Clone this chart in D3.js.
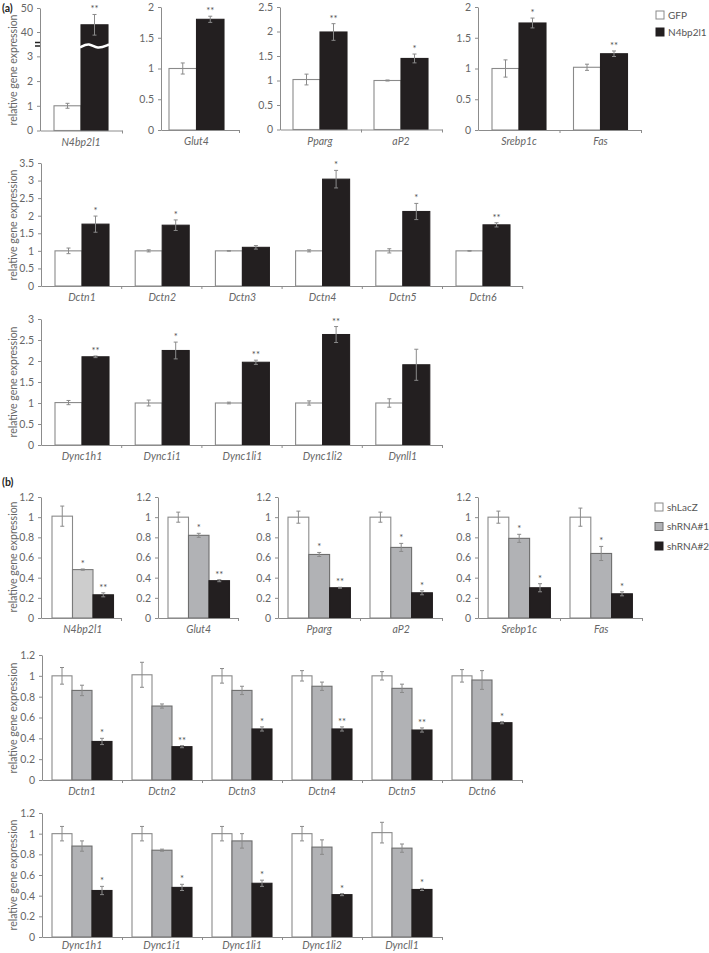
<!DOCTYPE html>
<html>
<head>
<meta charset="utf-8">
<script src="https://cdn.jsdelivr.net/npm/d3@7"></script>
<style>
  body { margin: 0; background: #fff; }
  text { font-family: Lato, "Open Sans", sans-serif; }
</style>
</head>
<body>
<svg id="fig" width="709" height="953"></svg>
<script>
// ---------- panel (a): GFP vs N4bp2l1 ----------
const aGenes1 = ["N4bp2l1", "Glut4", "Pparg", "aP2", "Srebp1c", "Fas"];
const aGfp1 = [1.0, 1.0, 1.02, 1.0, 1.0, 1.02];
const aGfpErr1 = [0.1, 0.09, 0.11, 0.01, 0.14, 0.05];
const aN4bp1 = [43, 1.8, 1.99, 1.45, 1.74, 1.24];
const aN4bpErr1 = [4.3, 0.05, 0.17, 0.09, 0.08, 0.045];
const aStars1 = ["**", "**", "**", "*", "*", "**"];

const aGenes2 = ["Dctn1", "Dctn2", "Dctn3", "Dctn4", "Dctn5", "Dctn6"];
const aGfp2 = [1.0, 1.0, 1.0, 1.0, 1.0, 1.0];
const aGfpErr2 = [0.08, 0.03, 0.01, 0.03, 0.06, 0.01];
const aN4bp2 = [1.76, 1.73, 1.1, 3.04, 2.12, 1.74];
const aN4bpErr2 = [0.23, 0.15, 0.05, 0.25, 0.23, 0.06];
const aStars2 = ["*", "*", "", "*", "*", "**"];

const aGenes3 = ["Dync1h1", "Dync1i1", "Dync1li1", "Dync1li2", "Dynll1"];
const aGfp3 = [1.01, 1.0, 1.0, 1.0, 1.0];
const aGfpErr3 = [0.05, 0.07, 0.02, 0.05, 0.1];
const aN4bp3 = [2.1, 2.25, 1.97, 2.63, 1.91];
const aN4bpErr3 = [0.02, 0.2, 0.05, 0.19, 0.37];
const aStars3 = ["**", "*", "**", "**", ""];

const aLegend = ["GFP", "N4bp2l1"];

// ---------- panel (b): shLacZ / shRNA#1 / shRNA#2 ----------
const bGenes1 = ["N4bp2l1", "Glut4", "Pparg", "aP2", "Srebp1c", "Fas"];
const bLacZ1 = [1.01, 1.0, 1.0, 1.0, 1.0, 1.0];
const bLacZErr1 = [0.1, 0.05, 0.06, 0.05, 0.06, 0.09];
const bSh1_1 = [0.48, 0.82, 0.63, 0.7, 0.79, 0.64];
const bSh1Err1 = [0.006, 0.02, 0.02, 0.04, 0.04, 0.07];
const bSh2_1 = [0.23, 0.37, 0.3, 0.25, 0.3, 0.24];
const bSh2Err1 = [0.02, 0.01, 0.005, 0.02, 0.04, 0.02];
const bStarsSh1_1 = ["*", "*", "*", "*", "*", "*"];
const bStarsSh2_1 = ["**", "**", "**", "*", "*", "*"];

const bGenes2 = ["Dctn1", "Dctn2", "Dctn3", "Dctn4", "Dctn5", "Dctn6"];
const bLacZ2 = [1.0, 1.01, 1.0, 1.0, 1.0, 1.0];
const bLacZErr2 = [0.08, 0.12, 0.07, 0.05, 0.04, 0.06];
const bSh1_2 = [0.86, 0.71, 0.86, 0.9, 0.88, 0.96];
const bSh1Err2 = [0.05, 0.02, 0.04, 0.04, 0.04, 0.09];
const bSh2_2 = [0.37, 0.32, 0.49, 0.49, 0.48, 0.55];
const bSh2Err2 = [0.03, 0.01, 0.02, 0.02, 0.02, 0.01];
const bStarsSh2_2 = ["*", "**", "*", "**", "**", "*"];

const bGenes3 = ["Dync1h1", "Dync1i1", "Dync1li1", "Dync1li2", "Dyncll1"];
const bLacZ3 = [1.0, 1.0, 1.0, 1.0, 1.01];
const bLacZErr3 = [0.07, 0.07, 0.07, 0.07, 0.1];
const bSh1_3 = [0.88, 0.84, 0.93, 0.87, 0.86];
const bSh1Err3 = [0.05, 0.01, 0.07, 0.07, 0.04];
const bSh2_3 = [0.45, 0.48, 0.52, 0.41, 0.46];
const bSh2Err3 = [0.04, 0.03, 0.03, 0.01, 0.01];
const bStarsSh2_3 = ["*", "*", "*", "*", "*"];

const bLegend = ["shLacZ", "shRNA#1", "shRNA#2"];

const ticks2 = [0, 0.5, 1, 1.5, 2];
const ticks25 = [0, 0.5, 1, 1.5, 2, 2.5];
const ticks35 = [0, 0.5, 1, 1.5, 2, 2.5, 3, 3.5];
const ticks3 = [0, 0.5, 1, 1.5, 2, 2.5, 3];
const ticks12 = [0, 0.2, 0.4, 0.6, 0.8, 1, 1.2];
const ticksBroken = [0, 1, 2, 3, 40, 50];

// ---------- styles ----------
const AXIS = "#8c8c8c", TXT = "#666", STAR = "#555";
const styWhite = { fill: "#fff", stroke: "#8a8a8a" };
const styBlack = { fill: "#231f20", stroke: "#231f20" };
const styGrey = { fill: "#b1b2b5", stroke: "#6e6e6e" };
const styGreyLight = { fill: "#cdcdcd", stroke: "#7a7a7a" };
const none = g => g.map(() => "");

const svg = d3.select("#fig");

function drawSub(s) {
  const g = svg.append("g");
  const y = s.y;
  const n = s.genes.length;
  const x = d3.scaleBand().domain(s.genes).range([s.axisX, s.axisX + n * s.catW]);

  s.series.forEach((ser, j) => {
    const bx = d => x(d) + s.pad + j * s.barW;
    g.selectAll(null).data(s.genes).join("rect")
      .attr("x", bx)
      .attr("y", (d, i) => y(ser.vals[i]))
      .attr("width", s.barW)
      .attr("height", (d, i) => y(0) - y(ser.vals[i]))
      .attr("fill", ser.sty.fill)
      .attr("stroke", ser.sty.stroke)
      .attr("stroke-width", 1.1);
  });

  // break mark on the tall bar
  if (s.broken) {
    const yb = y(3.5) + 1.5;
    const x0 = x(s.genes[0]) + s.pad + s.barW, x1 = x0 + s.barW;
    const w = x1 - x0;
    g.append("path")
      .attr("d", d3.line().curve(d3.curveBasis)([
        [x0 - 1, yb + 2], [x0 + w * 0.3, yb - 3], [x0 + w * 0.6, yb + 4], [x1 + 1, yb - 1]]))
      .attr("fill", "none").attr("stroke", "#fff").attr("stroke-width", 2.5);
    [yb - 3, yb + 0.5].forEach(v => g.append("line")
      .attr("x1", s.axisX - 5).attr("x2", s.axisX + 1)
      .attr("y1", v).attr("y2", v)
      .attr("stroke", "#222").attr("stroke-width", 1.5));
  }

  s.series.forEach((ser, j) => {
    const cx = d => x(d) + s.pad + j * s.barW + s.barW / 2;
    const eb = g.selectAll(null).data(s.genes).join("g");
    eb.append("line")
      .attr("x1", cx).attr("x2", cx)
      .attr("y1", (d, i) => y(ser.vals[i] - ser.errs[i]))
      .attr("y2", (d, i) => y(ser.vals[i] + ser.errs[i]))
      .attr("stroke", "#8a8a8a").attr("stroke-width", 1);
    [-1, 1].forEach(sg => eb.append("line")
      .attr("x1", d => cx(d) - 2).attr("x2", d => cx(d) + 2)
      .attr("y1", (d, i) => y(ser.vals[i] + sg * ser.errs[i]))
      .attr("y2", (d, i) => y(ser.vals[i] + sg * ser.errs[i]))
      .attr("stroke", "#8a8a8a").attr("stroke-width", 1));
    g.selectAll(null).data(s.genes).join("text")
      .attr("x", cx)
      .attr("y", (d, i) => y(ser.vals[i] + ser.errs[i]) - 2)
      .attr("text-anchor", "middle")
      .attr("font-size", 9.5)
      .attr("fill", STAR)
      .text((d, i) => ser.stars[i]);
  });

  // y axis
  const ya = g.append("g")
    .attr("transform", `translate(${s.axisX},0)`)
    .call(d3.axisLeft(y).tickValues(s.ticks).tickSize(3).tickSizeOuter(0)
      .tickPadding(4).tickFormat(d3.format("")));
  // x axis with ticks at category borders
  const xb = d3.scaleLinear().domain([0, n]).range([s.axisX, s.axisX + n * s.catW]);
  const xa = g.append("g")
    .attr("transform", `translate(0,${y(0)})`)
    .call(d3.axisBottom(xb).tickValues(d3.range(1, n + 1)).tickSize(3)
      .tickSizeOuter(0).tickFormat(""));
  [ya, xa].forEach(a => {
    a.attr("font-family", null).attr("font-size", 10.5);
    a.selectAll("path, line").attr("stroke", AXIS);
    a.selectAll("text").attr("fill", TXT);
  });

  // category names
  const k = s.series.length;
  g.selectAll(null).data(s.genes).join("text")
    .attr("x", d => x(d) + s.pad + k * s.barW / 2)
    .attr("y", y(0) + (s.labelDy || 15))
    .attr("text-anchor", "middle")
    .attr("font-style", "italic")
    .attr("font-size", 10.5)
    .attr("fill", TXT)
    .text(d => d);
}

function yTitle(cy) {
  svg.append("text")
    .attr("transform", `translate(13,${cy}) rotate(-90)`)
    .attr("text-anchor", "middle")
    .attr("dy", "0.35em")
    .attr("font-size", 10.5)
    .attr("fill", TXT)
    .text("relative gene expression");
}

function legend(x0, y0, gap, names, stys) {
  names.forEach((nm, i) => {
    svg.append("rect").attr("x", x0).attr("y", y0 + i * gap - 4)
      .attr("width", 8).attr("height", 8)
      .attr("fill", stys[i].fill).attr("stroke", stys[i].stroke).attr("stroke-width", 1);
    svg.append("text").attr("x", x0 + 12).attr("y", y0 + i * gap)
      .attr("dy", "0.35em").attr("font-size", 10).attr("fill", "#555").text(nm);
  });
}

function panelLabel(txt, yy) {
  svg.append("text").attr("x", 2).attr("y", yy)
    .attr("font-size", 10.5).attr("font-weight", "bold").attr("fill", "#222").text(txt);
}

// ---------- panel (a) ----------
panelLabel("(a)", 12);
const aSty = [styWhite, styBlack];
const aRow1 = (a, b) => [
  { vals: aGfp1.slice(a, b), errs: aGfpErr1.slice(a, b), stars: none(aGfp1.slice(a, b)), sty: styWhite },
  { vals: aN4bp1.slice(a, b), errs: aN4bpErr1.slice(a, b), stars: aStars1.slice(a, b), sty: styBlack }];

drawSub({ genes: aGenes1.slice(0, 1), series: aRow1(0, 1), broken: true,
  y: d3.scaleLinear().domain([0, 3.5, 37, 50]).range([130.5, 44, 39.2, 8]),
  ticks: ticksBroken, axisX: 40, catW: 82, pad: 14, barW: 27 });
drawSub({ genes: aGenes1.slice(1, 2), series: aRow1(1, 2),
  y: d3.scaleLinear().domain([0, 2]).range([130, 7]),
  ticks: ticks2, axisX: 161, catW: 78, pad: 8, barW: 27.5 });
drawSub({ genes: aGenes1.slice(2, 4), series: aRow1(2, 4),
  y: d3.scaleLinear().domain([0, 2.5]).range([129.5, 7]),
  ticks: ticks25, axisX: 280, catW: 81, pad: 13, barW: 27 });
drawSub({ genes: aGenes1.slice(4, 6), series: aRow1(4, 6),
  y: d3.scaleLinear().domain([0, 2]).range([130, 7]),
  ticks: ticks2, axisX: 478, catW: 81.5, pad: 14, barW: 27 });
yTitle(70);
legend(656, 15, 17, aLegend, aSty);

drawSub({ genes: aGenes2, series: [
    { vals: aGfp2, errs: aGfpErr2, stars: none(aGenes2), sty: styWhite },
    { vals: aN4bp2, errs: aN4bpErr2, stars: aStars2, sty: styBlack }],
  y: d3.scaleLinear().domain([0, 3.5]).range([286, 163]),
  ticks: ticks35, axisX: 41, catW: 80.2, pad: 14, barW: 27 });
yTitle(225);

drawSub({ genes: aGenes3, series: [
    { vals: aGfp3, errs: aGfpErr3, stars: none(aGenes3), sty: styWhite },
    { vals: aN4bp3, errs: aN4bpErr3, stars: aStars3, sty: styBlack }],
  y: d3.scaleLinear().domain([0, 3]).range([445, 319]),
  ticks: ticks3, axisX: 41, catW: 80.2, pad: 14, barW: 27 });
yTitle(382);

// ---------- panel (b) ----------
panelLabel("(b)", 486);
const bRow1 = (a, b, grey) => [
  { vals: bLacZ1.slice(a, b), errs: bLacZErr1.slice(a, b), stars: none(bLacZ1.slice(a, b)), sty: styWhite },
  { vals: bSh1_1.slice(a, b), errs: bSh1Err1.slice(a, b), stars: bStarsSh1_1.slice(a, b), sty: grey },
  { vals: bSh2_1.slice(a, b), errs: bSh2Err1.slice(a, b), stars: bStarsSh2_1.slice(a, b), sty: styBlack }];
const yB1 = d3.scaleLinear().domain([0, 1.2]).range([618, 497]);

drawSub({ genes: bGenes1.slice(0, 1), series: bRow1(0, 1, styGreyLight), y: yB1,
  ticks: ticks12, axisX: 41, catW: 80, pad: 11, barW: 20.5 });
drawSub({ genes: bGenes1.slice(1, 2), series: bRow1(1, 2, styGrey), y: yB1,
  ticks: ticks12, axisX: 158, catW: 80, pad: 10, barW: 20.5 });
drawSub({ genes: bGenes1.slice(2, 4), series: bRow1(2, 4, styGrey), y: yB1,
  ticks: ticks12, axisX: 278, catW: 82, pad: 10, barW: 20.8 });
drawSub({ genes: bGenes1.slice(4, 6), series: bRow1(4, 6, styGrey), y: yB1,
  ticks: ticks12, axisX: 478, catW: 82, pad: 10, barW: 20.8 });
yTitle(557);
legend(655, 507, 19.5, bLegend, [styWhite, styGrey, styBlack]);

drawSub({ genes: bGenes2, series: [
    { vals: bLacZ2, errs: bLacZErr2, stars: none(bGenes2), sty: styWhite },
    { vals: bSh1_2, errs: bSh1Err2, stars: none(bGenes2), sty: styGrey },
    { vals: bSh2_2, errs: bSh2Err2, stars: bStarsSh2_2, sty: styBlack }],
  y: d3.scaleLinear().domain([0, 1.2]).range([780, 655]),
  ticks: ticks12, axisX: 42, catW: 80, pad: 10, barW: 20 });
yTitle(718);

drawSub({ genes: bGenes3, series: [
    { vals: bLacZ3, errs: bLacZErr3, stars: none(bGenes3), sty: styWhite },
    { vals: bSh1_3, errs: bSh1Err3, stars: none(bGenes3), sty: styGrey },
    { vals: bSh2_3, errs: bSh2Err3, stars: bStarsSh2_3, sty: styBlack }],
  y: d3.scaleLinear().domain([0, 1.2]).range([937, 813]),
  ticks: ticks12, axisX: 42, catW: 80, pad: 10, barW: 20, labelDy: 12 });
yTitle(875);
</script>
</body>
</html>
